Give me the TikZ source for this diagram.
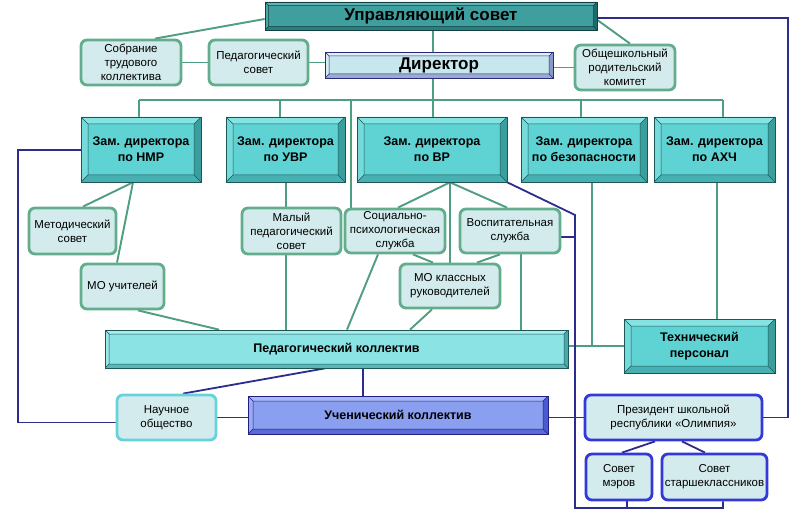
\documentclass[tikz,border=0pt]{standalone}
\usepackage{fontspec}
\setmainfont{Liberation Sans}
\definecolor{gline}{HTML}{4E9E80}
\definecolor{nline}{HTML}{2C2C8C}
\definecolor{rbline}{HTML}{63AD8C}
\definecolor{rbfill}{HTML}{D3EBEC}
\definecolor{cyline}{HTML}{66D2DA}
\definecolor{blline}{HTML}{3538D8}
% zam boxes
\definecolor{zface}{HTML}{5FD3D3}
\definecolor{ztop}{HTML}{86E3E3}
\definecolor{zleft}{HTML}{74DADA}
\definecolor{zright}{HTML}{3B9E9E}
\definecolor{zbot}{HTML}{48B0B0}
\definecolor{zline}{HTML}{1D5656}
% us box
\definecolor{uface}{HTML}{3F9F9F}
\definecolor{utop}{HTML}{5FB5B5}
\definecolor{uleft}{HTML}{4AA8A8}
\definecolor{uright}{HTML}{1F6A6A}
\definecolor{ubot}{HTML}{2C7D7D}
\definecolor{uline}{HTML}{134040}
% director
\definecolor{dface}{HTML}{C8E6EE}
\definecolor{dtop}{HTML}{E0F0F5}
\definecolor{dleft}{HTML}{D5ECF2}
\definecolor{dright}{HTML}{8A9AC8}
\definecolor{dbot}{HTML}{9AAAD0}
\definecolor{dline}{HTML}{2A2A7A}
% ped kollektiv
\definecolor{pface}{HTML}{8BE3E3}
\definecolor{ptop}{HTML}{A8ECEC}
\definecolor{pleft}{HTML}{9CE8E8}
\definecolor{pright}{HTML}{4AA8A8}
\definecolor{pbot}{HTML}{5CB8B8}
% uch
\definecolor{cface}{HTML}{8A9FF0}
\definecolor{ctop}{HTML}{A8B8F8}
\definecolor{cleft}{HTML}{9AAAF4}
\definecolor{cright}{HTML}{4A5AD0}
\definecolor{cbot}{HTML}{5A6AD8}
\definecolor{cline}{HTML}{202080}
\newcommand\regf{\fontsize{11.5}{14}\selectfont}
\newcommand\zamf{\fontsize{12.5}{16}\selectfont\bfseries}
\newcommand\bigbf{\fontsize{17}{19}\selectfont\bfseries}
\pgfdeclarelayer{bg}
\pgfdeclarelayer{lines}
\pgfsetlayers{bg,lines,main}
\tikzset{
 bev/.style n args={7}{rectangle, draw=#6, line width=0.7pt, fill=#1, inner sep=0pt, align=center,
  path picture={
   \coordinate (pNW) at (path picture bounding box.north west);
   \coordinate (pNE) at (path picture bounding box.north east);
   \coordinate (pSW) at (path picture bounding box.south west);
   \coordinate (pSE) at (path picture bounding box.south east);
   \path (pNW) ++(#7,-#7) coordinate (iNW);
   \path (pNE) ++(-#7,-#7) coordinate (iNE);
   \path (pSW) ++(#7,#7) coordinate (iSW);
   \path (pSE) ++(-#7,#7) coordinate (iSE);
   \fill[#2] (pNW) -- (pNE) -- (iNE) -- (iNW) -- cycle;
   \fill[#3] (pNW) -- (iNW) -- (iSW) -- (pSW) -- cycle;
   \fill[#4] (pNE) -- (pSE) -- (iSE) -- (iNE) -- cycle;
   \fill[#5] (pSW) -- (iSW) -- (iSE) -- (pSE) -- cycle;
   \draw[#6, line width=0.5pt] (iNW) rectangle (iSE) (pNW) -- (iNW) (pNE) -- (iNE) (pSW) -- (iSW) (pSE) -- (iSE);
  }},
 zam/.style={bev={zface}{ztop}{zleft}{zright}{zbot}{zline}{7pt}, font=\zamf},
 rb/.style={rectangle, rounded corners=6pt, draw=rbline, line width=2.8pt, fill=rbfill, inner sep=0pt, align=center, font=\regf},
 gl/.style={draw=gline, line width=1.9pt},
 nl/.style={draw=nline, line width=1.8pt},
 sz/.style n args={2}{minimum width=#1pt, minimum height=#2pt},
}
\begin{document}
\begin{tikzpicture}[x=1pt,y=-1pt]
\useasboundingbox (0,0) rectangle (807,516);
\begin{pgfonlayer}{bg}
\fill[white] (0,0) rectangle (807,516);
\end{pgfonlayer}
% top
\node[bev={uface}{utop}{uleft}{uright}{ubot}{uline}{3.5pt}, font=\bigbf, sz={332}{28}] (us) at (431,16) {Управляющий совет};
\node[bev={dface}{dtop}{dleft}{dright}{dbot}{dline}{4pt}, font=\bigbf, sz={228}{26}] (dir) at (439,65) {Директор};
\node[rb, sz={100}{45}] (sob) at (131,62.5) {Собрание\\трудового\\коллектива};
\node[rb, sz={99}{45}] (psov) at (258.5,62.5) {Педагогический\\совет};
\node[rb, sz={100}{45}] (rod) at (625,67.5) {Общешкольный\\родительский\\комитет};
% zam
\node[zam, sz={120}{65}] (nmr) at (141,149.5) {Зам. директора\\по НМР};
\node[zam, sz={119}{65}] (uvr) at (285.5,149.5) {Зам. директора\\по УВР};
\node[zam, sz={150}{65}] (vr) at (432,149.5) {Зам. директора\\по ВР};
\node[zam, sz={126}{65}] (bez) at (584,149.5) {Зам. директора\\по безопасности};
\node[zam, sz={121}{65}] (ahch) at (714.5,149.5) {Зам. директора\\по АХЧ};
% second level
\node[rb, sz={87}{46}] (met) at (72.5,231) {Методический\\совет};
\node[rb, sz={83}{45}] (mou) at (122.5,286.5) {МО учителей};
\node[rb, sz={99}{46}] (malp) at (291.5,231) {Малый\\педагогический\\совет};
\node[rb, sz={100}{44}] (soc) at (395,231) {Социально-\\психологическая\\служба};
\node[rb, sz={100}{44}] (vos) at (510,231) {Воспитательная\\служба};
\node[rb, sz={100}{44}] (mok) at (450,286) {МО классных\\руководителей};
% collectives
\node[bev={pface}{ptop}{pleft}{pright}{pbot}{zline}{4pt}, font=\zamf, sz={463}{38}] (pk) at (336.5,349) {Педагогический коллектив};
\node[zam, sz={151}{54}] (tech) at (699.5,346) {Технический\\персонал};
\node[bev={cface}{ctop}{cleft}{cright}{cbot}{cline}{5pt}, font=\zamf, sz={300}{38}] (uch) at (398,415) {Ученический коллектив};
\node[rb, draw=cyline, sz={99}{45}] (nauch) at (166.5,417.5) {Научное\\общество};
\node[rb, draw=blline, sz={177}{45}] (pres) at (673.5,417.5) {Президент школьной\\республики «Олимпия»};
\node[rb, draw=blline, sz={66}{46}] (mer) at (619,477) {Совет\\мэров};
\node[rb, draw=blline, sz={105}{46}] (star) at (714.5,477) {Совет\\старшеклассников};
% coordinates
\coordinate (bus) at (433,100);
\coordinate (b1) at (139,100);
\coordinate (b2) at (280,100);
\coordinate (b3) at (351,100);
\coordinate (b5) at (581,100);
\coordinate (b6) at (723,100);
\coordinate (rc) at (788,18);
\coordinate (lc) at (18,150);
\coordinate (nv1) at (575,215);
\coordinate (nv2) at (575,508);
\begin{pgfonlayer}{lines}
% green
\draw[gl] ([yshift=-3pt]us.west) -- ([xshift=24pt]sob.north);
\draw[gl] (sob.east) -- (psov.west);
\draw[gl] (psov.east) -- (psov.east -| dir.west);
\draw[gl] (rod.west -| dir.east) -- (rod.west);
\draw[gl] ([yshift=-4pt]us.east) -- ([xshift=5pt]rod.north);
\draw[gl] (us.south -| bus) -- (dir.north -| bus);
\draw[gl] (dir.south -| bus) -- (bus);
\draw[gl] (b1) -- (b6);
\draw[gl] (b1) -- (b1 |- nmr.north);
\draw[gl] (b2) -- (b2 |- uvr.north);
\draw[gl] (b3) -- (b3 |- soc.north);
\draw[gl] (bus) -- (bus |- vr.north);
\draw[gl] (b5) -- (b5 |- bez.north);
\draw[gl] (b6) -- (b6 |- ahch.north);
\draw[gl] ([xshift=-8pt]nmr.south) -- ([xshift=10.5pt]met.north);
\draw[gl] ([xshift=-8pt]nmr.south) -- ([xshift=-5.5pt]mou.north);
\draw[gl] ([xshift=15.5pt]mou.south) -- ([xshift=-117.5pt]pk.north);
\draw[gl] ([xshift=0.5pt]uvr.south) -- ([xshift=0.5pt]uvr.south |- malp.north);
\draw[gl] ([xshift=0.5pt]malp.south -| uvr.south) -- ([xshift=0.5pt]uvr.south |- pk.north);
\draw[gl] ([xshift=18pt]vr.south) -- ([xshift=3pt]soc.north);
\draw[gl] ([xshift=18pt]vr.south) -- (mok.north);
\draw[gl] ([xshift=18pt]vr.south) -- ([xshift=-3pt]vos.north);
\draw[gl] ([xshift=18pt]soc.south) -- ([xshift=-17pt]mok.north);
\draw[gl] ([xshift=-10pt]vos.south) -- ([xshift=27pt]mok.north);
\draw[gl] ([xshift=-17pt]soc.south) -- ([xshift=10.5pt]pk.north);
\draw[gl] ([xshift=-18pt]mok.south) -- ([xshift=73.5pt]pk.north);
\draw[gl] ([xshift=11pt]vos.south) -- ([xshift=11pt]vos.south |- pk.north);
\draw[gl] (pk.east |- tech.west) -- (tech.west);
\draw[gl] ([xshift=8pt]bez.south) -- ([xshift=8pt]bez.south |- tech.west);
\draw[gl] ([xshift=2.5pt]ahch.south) -- ([xshift=2.5pt]ahch.south |- tech.north);
% navy
\draw[nl] ([yshift=-2pt]us.east) -- (rc) |- (pres.east);
\draw[nl] ([yshift=-5pt]nauch.west) -| (lc) -- (lc -| nmr.west);
\draw[nl] (nauch.east) -- (nauch.east -| uch.west);
\draw[nl] ([xshift=-11.5pt]pk.south) -- ([xshift=16.5pt]nauch.north);
\draw[nl] ([xshift=26.5pt]pk.south) -- ([xshift=26.5pt]pk.south |- uch.north);
\draw[nl] (pres.west -| uch.east) -- (pres.west);
\draw[nl] (vr.south east) -- (nv1) -- (nv2) -| ([xshift=8.5pt]star.south);
\draw[nl] ([xshift=8pt]mer.south) -- ([xshift=8pt]mer.south |- nv2);
\draw[nl] ([yshift=-6pt]vos.east) -- ([yshift=-6pt]vos.east -| nv1);
\draw[nl] ([xshift=-18.5pt]pres.south) -- ([xshift=3pt]mer.north);
\draw[nl] ([xshift=8.5pt]pres.south) -- ([xshift=-9.5pt]star.north);
\end{pgfonlayer}
\end{tikzpicture}
\end{document}
